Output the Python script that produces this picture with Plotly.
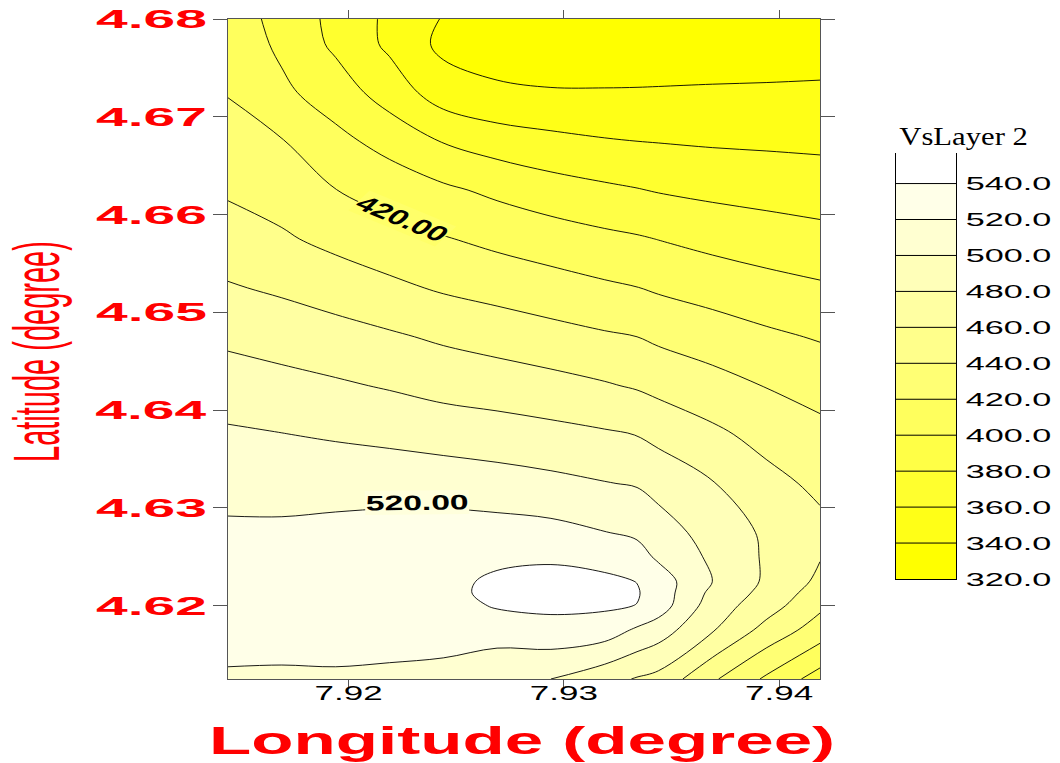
import json
import plotly.graph_objects as go

# ---- grid of shear-wave velocity (m/s) for layer 2 ----
lon = [7.9144, 7.9169, 7.9194, 7.9219, 7.9244, 7.9269,
       7.9294, 7.9319, 7.9334, 7.9344, 7.9369, 7.9394, 7.9419]
lat = [4.6125, 4.6175, 4.62, 4.6213, 4.6225, 4.625, 4.6275, 4.6325, 4.6375,
       4.6425, 4.6475, 4.6525, 4.6575, 4.6625, 4.6675, 4.6725, 4.6775, 4.6825]

# rows follow lat (south -> north), columns follow lon (west -> east)
vs_layer2 = [
    [518.5, 518, 518, 516.5, 514.3, 508, 500, 487, 478.5, 474, 443, 417, 391],
    [524.5, 525, 526, 527, 527.5, 527, 533, 530, 517, 509.4, 481.6, 453.3, 430.7],
    [526.5, 527, 528, 530, 531, 542, 544, 543, 539.6, 530, 490, 469, 444],
    [528, 528.5, 529.5, 531.5, 536, 543.5, 546.5, 544.5, 541.5, 531, 495, 474, 450.5],
    [527.5, 528, 529, 531, 535.4, 543, 546, 544, 539.6, 530, 500, 477, 456],
    [526, 526.5, 527.5, 529, 531, 536.2, 537.2, 532.8, 527.3, 516.8, 496.3, 477.5, 461],
    [523, 523, 525, 527, 528, 527.7, 526, 520.4, 516.7, 509.2, 492, 477, 465],
    [514, 513.6, 513, 512.6, 511.6, 508.6, 505, 500.8, 498.5, 493, 481, 466, 455.9],
    [502.8, 500.5, 497.8, 495, 491.3, 488.7, 485.8, 482.3, 479.6, 474.8, 464.1, 453.8, 445.4],
    [489.6, 486.2, 482.5, 478.4, 473.7, 470.7, 466.7, 461.7, 458.1, 454.4, 447.2, 439.3, 432.8],
    [476, 471.8, 467.5, 462.6, 457, 452, 447, 442.4, 440, 436.5, 430, 423.6, 418.4],
    [461.7, 457, 451, 444.2, 437.7, 432.9, 428.1, 423.1, 420.4, 417.5, 412.1, 406.9, 402.6],
    [449, 442.6, 434.7, 428, 421.3, 415.2, 409.8, 404.5, 401.9, 399.6, 394.1, 389.8, 386.3],
    [437.5, 431.5, 420.3, 411.9, 403.6, 395.8, 388.8, 383.6, 380.9, 378.8, 375.3, 372.9, 370.5],
    [428, 421, 405.5, 393, 379, 370.7, 365.2, 361.4, 360, 359.3, 357.7, 356.8, 355.9],
    [419, 404, 390, 371, 350, 342, 341, 341, 341.2, 341.5, 342, 342.5, 343],
    [413, 396, 376, 356, 335, 334, 331, 330, 329.5, 329, 330, 330, 331],
    [408, 392, 374, 357, 343, 333, 328, 326, 325.5, 325, 325, 324, 324],
]

levels = [320, 340, 360, 380, 400, 420, 440, 460, 480, 500, 520, 540]
level_labels = ["320.0", "340.0", "360.0", "380.0", "400.0", "420.0",
                "440.0", "460.0", "480.0", "500.0", "520.0", "540.0"]
bar_top = 557
lon_ticks = [7.92, 7.93, 7.94]
lon_tick_labels = ["7.92", "7.93", "7.94"]
lat_ticks = [4.62, 4.63, 4.64, 4.65, 4.66, 4.67, 4.68]
lat_tick_labels = ["4.62", "4.63", "4.64", "4.65", "4.66", "4.67", "4.68"]

step = levels[1] - levels[0]
# yellow for the lowest band, fading to white above the highest level
scale = [[0, "#ffff00"], [1 / 12, "#ffff00"], [1, "#ffffff"]]
zmin = levels[0] - step / 2
zmax = levels[-1] + step / 2

FONT = "Liberation Sans"
RED = "#ff0000"
FRAME = "#555555"

fig = go.Figure()

fig.add_trace(go.Contour(
    x=lon, y=lat, z=vs_layer2,
    autocontour=False,
    contours=dict(start=levels[0], end=levels[-1], size=step,
                  coloring="fill", showlabels=False),
    colorscale=scale, showscale=False,
    line=dict(color="black", width=0.9, smoothing=1.0),
    hoverinfo="skip",
    xaxis="x", yaxis="y",
))

# ---- legend bar: one brick per band, white band above the top level ----
bar_edges = levels + [bar_top]
band_mid = [[lv + step / 2] for lv in levels]
fig.add_trace(go.Heatmap(
    x=[0, 1], y=bar_edges, z=band_mid,
    colorscale=scale, zmin=zmin, zmax=zmax, showscale=False,
    hoverinfo="skip", xaxis="x2", yaxis="y2",
))
div_x, div_y = [], []
for lv in levels[1:]:
    div_x += [0, 1, None]
    div_y += [lv, lv, None]
fig.add_trace(go.Scatter(
    x=div_x, y=div_y, mode="lines",
    line=dict(color="black", width=1),
    hoverinfo="skip", showlegend=False, xaxis="x2", yaxis="y2",
))

W, H = 1060, 763
T, B = 19, 84
ph = H - T - B


def px(xp):
    return xp / W


def py(yp):
    return (H - B - yp) / ph


fig.update_layout(
    width=W, height=H,
    margin=dict(l=0, r=0, t=T, b=B, pad=0),
    paper_bgcolor="white", plot_bgcolor="white",
    showlegend=False,
    font=dict(family=FONT, color="black"),
    xaxis=dict(
        domain=[px(228), px(820)], range=[lon[0], lon[-1]],
        tickvals=lon_ticks, ticktext=lon_tick_labels,
        ticks="outside", ticklen=8, tickwidth=1, tickcolor=FRAME,
        showline=True, linecolor=FRAME, linewidth=1, mirror="ticks",
        showgrid=False, zeroline=False, automargin=False,
        tickfont=dict(family=FONT, size=20, color="black"),
        ticklabelstandoff=-12,
    ),
    yaxis=dict(
        domain=[0, 1], range=[4.6125, 4.68],
        tickvals=lat_ticks, ticktext=lat_tick_labels,
        ticks="outside", ticklen=14, tickwidth=1, tickcolor=FRAME,
        showline=True, linecolor=FRAME, linewidth=1, mirror="ticks",
        showgrid=False, zeroline=False, automargin=False,
        tickfont=dict(family=FONT, size=26, color=RED, weight="bold"),
        ticklabelstandoff=1,
    ),
    xaxis2=dict(
        domain=[px(896), px(956)], range=[0, 1], anchor="y2",
        showline=True, linecolor="black", linewidth=1,
        showticklabels=False, ticks="", showgrid=False, zeroline=False,
        automargin=False,
    ),
    yaxis2=dict(
        domain=[py(579), py(153)], range=[levels[0], bar_top], anchor="x2",
        side="right", showline=True, mirror=True,
        linecolor="black", linewidth=1,
        tickvals=levels, ticktext=level_labels, ticks="",
        showgrid=False, zeroline=False, automargin=False,
        tickfont=dict(family=FONT, size=19, color="black"),
        ticklabelstandoff=5,
    ),
)

annotations = [
    dict(text="420.00", x=7.92249, y=4.65955, xref="x", yref="y",
         textangle=33.7, showarrow=False, bgcolor="rgb(255,255,105)",
         borderpad=0, font=dict(family=FONT, size=21, color="black", weight="bold")),
    dict(text="520.00", x=7.92316, y=4.6306, xref="x", yref="y",
         textangle=-1, showarrow=False, bgcolor="rgb(255,255,220)",
         borderpad=0, font=dict(family=FONT, size=21, color="black", weight="bold")),
    dict(text="Longitude (degree)", x=px(522), y=py(741),
         xref="paper", yref="paper", showarrow=False,
         xanchor="center", yanchor="middle",
         font=dict(family=FONT, size=38, color=RED, weight="bold")),
    dict(text="Latitude (degree)", x=px(37), y=py(352),
         xref="paper", yref="paper", showarrow=False, textangle=-90,
         xanchor="center", yanchor="middle",
         font=dict(family=FONT, size=29, color=RED)),
    dict(text="VsLayer 2", x=px(897), y=py(136),
         xref="paper", yref="paper", showarrow=False,
         xanchor="left", yanchor="middle",
         font=dict(family="Liberation Serif", size=26, color="black")),
]
fig.update_layout(annotations=annotations)

# widen the lettering horizontally after the figure is drawn
stretch_cfg = {
    "ticks": [
        {"sel": "g.ytick text", "sx": 2.19, "mode": "end"},
        {"sel": "g.xtick text", "sx": 1.75, "mode": "middle"},
        {"sel": "g.y2tick text", "sx": 1.8, "mode": "start"},
    ],
    "anns": [
        {"sx": 1.6, "mode": "middle"},
        {"sx": 1.6, "mode": "middle"},
        {"sx": 1.82, "mode": "middle"},
        {"sx": 2.25, "mode": "middle"},
        {"sx": 1.18, "mode": "start"},
    ],
}

post_js = """
var gd = document.getElementById('{plot_id}');
var cfg = __CFG__;
function stretch(el, sx, sy, mode) {
  var bb = el.getBBox();
  var cx = mode === 'start' ? bb.x : (mode === 'end' ? bb.x + bb.width : bb.x + bb.width / 2);
  var cy = bb.y + bb.height / 2;
  var tr = el.getAttribute('transform') || '';
  el.setAttribute('transform', tr + ' translate(' + cx + ',' + cy + ') scale(' + sx + ',' + sy + ') translate(' + (-cx) + ',' + (-cy) + ')');
}
cfg.ticks.forEach(function (t) {
  gd.querySelectorAll(t.sel).forEach(function (el) { stretch(el, t.sx, 1, t.mode); });
});
gd.querySelectorAll('g.annotation').forEach(function (el, i) {
  var idx = parseInt(el.getAttribute('data-index'));
  if (isNaN(idx)) { idx = i; }
  var a = cfg.anns[idx];
  if (a) { stretch(el, a.sx, 1, a.mode); }
});
""".replace("__CFG__", json.dumps(stretch_cfg))

fig.write_html("out.html", post_script=post_js, config={"displayModeBar": False})
